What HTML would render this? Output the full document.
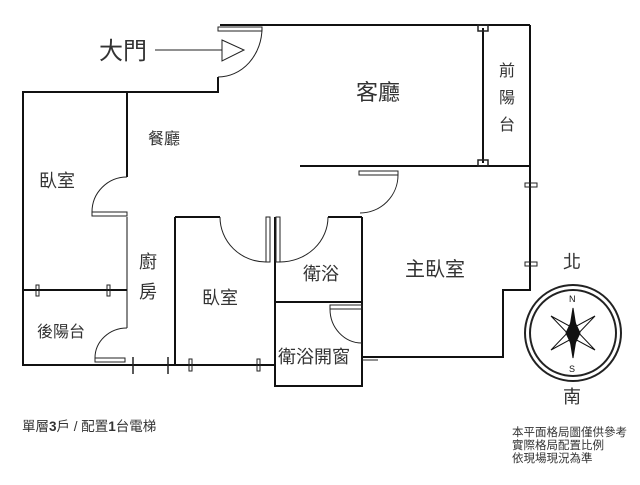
<!DOCTYPE html>
<html><head><meta charset="utf-8"><style>
body{margin:0;background:#fff;width:640px;height:480px;overflow:hidden}
svg text{font-family:"Liberation Sans","Noto Sans CJK TC",sans-serif;fill:#333}
</style></head><body>
<svg width="640" height="480" viewBox="0 0 640 480" xmlns="http://www.w3.org/2000/svg">
<g stroke="#111" stroke-width="2" fill="none">
<line x1="220" y1="25" x2="530" y2="25"/>
<line x1="530" y1="25" x2="530" y2="290"/>
<line x1="503" y1="290" x2="531" y2="290"/>
<line x1="503" y1="289" x2="503" y2="358"/>
<line x1="362" y1="357" x2="503" y2="357"/>
<line x1="218" y1="77" x2="218" y2="92"/>
<line x1="22" y1="92" x2="219" y2="92"/>
<line x1="23" y1="92" x2="23" y2="366"/>
<line x1="23" y1="365" x2="274" y2="365"/>
<line x1="127" y1="92" x2="127" y2="177"/>
<line x1="127" y1="217" x2="127" y2="328" stroke-width="1"/>
<line x1="23" y1="290" x2="127" y2="290"/>
<line x1="300" y1="166" x2="530" y2="166"/>
<line x1="483" y1="28" x2="483" y2="163"/>
<line x1="175" y1="217" x2="175" y2="365"/>
<line x1="175" y1="217" x2="220" y2="217"/>
<line x1="328" y1="217" x2="362" y2="217"/>
<line x1="275" y1="217" x2="275" y2="387"/>
<line x1="362" y1="217" x2="362" y2="357"/>
<line x1="274" y1="302" x2="363" y2="302"/>
<line x1="274" y1="386" x2="363" y2="386"/>
<line x1="362" y1="343" x2="362" y2="387"/>
</g>
<g stroke="#222" stroke-width="1" fill="none">
<rect x="218" y="27" width="44" height="4"/>
<path d="M262 28 A44 49 0 0 1 218 77"/>
<rect x="92" y="212" width="35" height="4"/>
<path d="M127 177 A35 35 0 0 0 92 212"/>
<rect x="95" y="358" width="30" height="4"/>
<path d="M127 328 A32 30 0 0 0 95 358"/>
<rect x="359" y="171" width="39" height="4"/>
<path d="M398 175 A38 38 0 0 1 360 213"/>
<rect x="266" y="217" width="4" height="45"/>
<path d="M220 217 A46 45 0 0 0 266 262"/>
<rect x="276" y="217" width="4" height="45"/>
<path d="M328 217 A48 45 0 0 1 280 262"/>
<rect x="330" y="305" width="32" height="4"/>
<path d="M330 309 A32 34 0 0 0 362 343"/>
<rect x="478" y="25" width="10" height="6" stroke-width="1.5"/>
<rect x="478" y="160" width="10" height="6" stroke-width="1.5"/>
<rect x="525" y="183" width="12" height="4"/>
<rect x="525" y="262" width="12" height="4"/>
<rect x="36" y="285" width="3" height="11"/>
<rect x="107" y="285" width="3" height="11"/>
<rect x="189" y="359" width="3" height="12"/>
<rect x="257" y="359" width="3" height="12"/>
<line x1="133" y1="357" x2="133" y2="374" stroke-width="1.5"/>
<line x1="168" y1="357" x2="168" y2="374" stroke-width="1.5"/>
<line x1="362" y1="360" x2="378" y2="360"/>
<line x1="155" y1="50" x2="222" y2="50"/>
<path d="M222 40 L244 50 L222 61 Z"/>
<circle cx="573" cy="333" r="48" stroke-width="2"/>
<circle cx="573" cy="333" r="43" stroke-width="2"/>
</g>
<g fill="#111" stroke="#111" stroke-width="1">
<path d="M573 308 L577 333 L573 358 L569 333 Z"/>
<path d="M551 316 L575 329 L595 350 L571 337 Z" fill="none"/>
<path d="M595 316 L571 329 L551 350 L575 337 Z" fill="none"/>
<path d="M573 318 L580 333 L573 348 L566 333Z"/>
</g>
<g font-size="9"><text x="569" y="302" style="fill:#111">N</text><text x="569" y="372" style="fill:#111">S</text></g>
<text x="99" y="59" font-size="24">大門</text>
<text x="356" y="100" font-size="22">客廳</text>
<g font-size="16"><text x="499" y="76">前</text><text x="499" y="103">陽</text><text x="499" y="130">台</text></g>
<text x="148" y="144" font-size="16">餐廳</text>
<text x="39" y="187" font-size="18">臥室</text>
<g font-size="18"><text x="139" y="268">廚</text><text x="139" y="298">房</text></g>
<text x="202" y="304" font-size="18">臥室</text>
<text x="303" y="280" font-size="18">衛浴</text>
<text x="405" y="276" font-size="20">主臥室</text>
<text x="37" y="337" font-size="16">後陽台</text>
<text x="278" y="363" font-size="18">衛浴開窗</text>
<text x="563" y="268" font-size="18">北</text>
<text x="563" y="403" font-size="18">南</text>
<text x="22" y="431" font-size="13.5">單層<tspan font-weight="bold">3</tspan>戶 / 配置<tspan font-weight="bold">1</tspan>台電梯</text>
<g font-size="11.5"><text x="512" y="436">本平面格局圖僅供參考</text><text x="512" y="449">實際格局配置比例</text><text x="512" y="462">依現場現況為準</text></g>
</svg>
</body></html>
